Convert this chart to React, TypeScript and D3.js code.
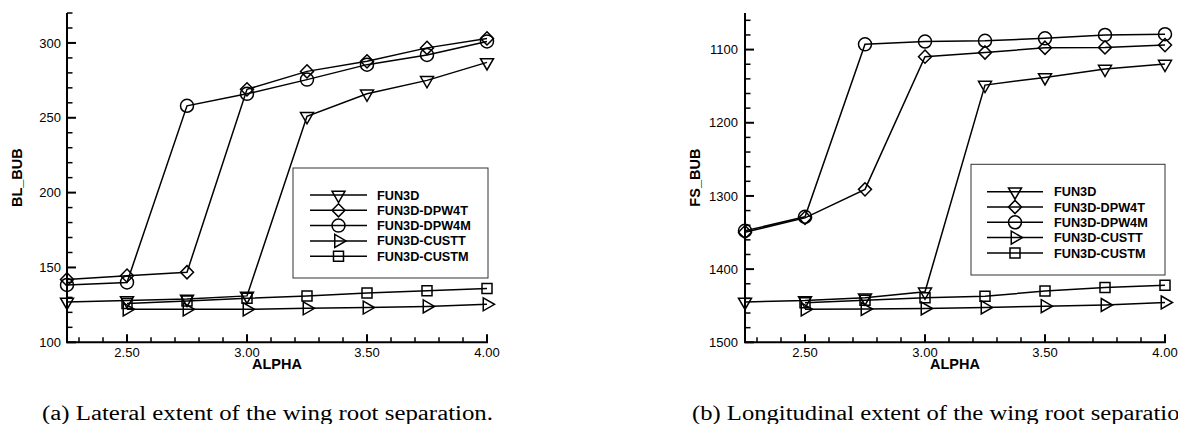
import React from "react";
import * as d3 from "d3";

const alphas = [2.25, 2.5, 2.75, 3.0, 3.25, 3.5, 3.75, 4.0];
const alphasCust = [2.5, 2.75, 3.0, 3.25, 3.5, 3.75, 4.0];

const seriesNames = ["FUN3D", "FUN3D-DPW4T", "FUN3D-DPW4M", "FUN3D-CUSTT", "FUN3D-CUSTM"];
const seriesMarkers = ["triDown", "diamond", "circle", "triRight", "square"];

// (a) BL_BUB
const blFun3d = [127, 128, 129, 131, 251, 266, 275, 287];
const blDpw4t = [142, 144.5, 146.8, 269, 281, 287.7, 296.7, 303];
const blDpw4m = [138.3, 140, 258, 266, 275.5, 285.5, 292, 301];
const blCustt = [122, 122, 122, 122.7, 123.2, 124, 125.4];
const blCustm = [126, 127.6, 129.4, 131, 133, 134.5, 136];

// (b) FS_BUB
const fsFun3d = [1444.8, 1443, 1439, 1431, 1148.5, 1138, 1126.6, 1119.7];
const fsDpw4t = [1349.5, 1330, 1291, 1109.7, 1104, 1097.5, 1097, 1093.8];
const fsDpw4m = [1347.7, 1328.5, 1092.8, 1089, 1088, 1084.6, 1080, 1079];
const fsCustt = [1455, 1454.5, 1453.8, 1452.4, 1450.7, 1449, 1445.6];
const fsCustm = [1446, 1442.5, 1439, 1437, 1430, 1425, 1422];

const xMajorTicks = [2.5, 3.0, 3.5, 4.0];
const xTickLabels = ["2.50", "3.00", "3.50", "4.00"];
const blMajorTicks = [100, 150, 200, 250, 300];
const fsMajorTicks = [1100, 1200, 1300, 1400, 1500];

const captionA = "(a) Lateral extent of the wing root separation.";
const captionB = "(b) Longitudinal extent of the wing root separation.";

const SANS = "'Liberation Sans', Arial, Helvetica, sans-serif";
const SERIF = "'Liberation Serif', 'Times New Roman', serif";

function markerPath(kind: string): string {
  const w = 13;
  const h = w * 0.866;
  switch (kind) {
    case "triDown":
      return `M${-w / 2},${-h / 3}L${w / 2},${-h / 3}L0,${(2 * h) / 3}Z`;
    case "triRight":
      return `M${-h / 3},${-w / 2}L${(2 * h) / 3},0L${-h / 3},${w / 2}Z`;
    case "diamond":
      return "M0,-6.6L6.5,0L0,6.6L-6.5,0Z";
    case "square":
      return "M-5,-5L5,-5L5,5L-5,5Z";
    case "circle":
    default: {
      const p = d3.path();
      p.arc(0, 0, 6.5, 0, Math.PI * 2);
      p.closePath();
      return p.toString();
    }
  }
}

type Series = { xs: number[]; ys: number[]; marker: string };

type PanelProps = {
  x0: number;
  x1: number;
  y0: number;
  y1: number;
  yDomain: [number, number];
  series: Series[];
  yMajors: number[];
  yMinorStep: number;
  yMinorStart: number;
  yMinorEnd: number;
  yTitle: string;
  yTitleX: number;
  labelGap: number;
  legend: { x: number; y: number; w: number; h: number; lineX0: number; lineX1: number; textX: number; rows: number[] };
};

function Panel(p: PanelProps) {
  const xs = d3.scaleLinear().domain([2.25, 4.0]).range([p.x0, p.x1]);
  const ys = d3.scaleLinear().domain(p.yDomain).range([p.y1, p.y0]);
  const line = d3
    .line<[number, number]>()
    .x((d) => xs(d[0]))
    .y((d) => ys(d[1]));

  const xMinor = d3.range(2.3, 3.95, 0.1).filter((v) => !xMajorTicks.some((m) => Math.abs(m - v) < 1e-6));
  const yMinor: number[] = [];
  for (let v = p.yMinorStart; v <= p.yMinorEnd + 1e-6; v += p.yMinorStep) {
    if (!p.yMajors.some((m) => Math.abs(m - v) < 1e-6)) yMinor.push(v);
  }
  const yTop = Math.min(ys.range()[0], ys.range()[1]);
  const yBot = Math.max(ys.range()[0], ys.range()[1]);
  const axisY = yBot;

  return (
    <g>
      {/* data lines */}
      {p.series.map((s, i) => (
        <path
          key={"l" + i}
          d={line(s.xs.map((x, j) => [x, s.ys[j]] as [number, number])) || ""}
          fill="none"
          stroke="#000"
          strokeWidth={1.5}
        />
      ))}
      {p.series.map((s, i) => (
        <g key={"m" + i}>
          {s.xs.map((x, j) => (
            <path
              key={j}
              d={markerPath(s.marker)}
              transform={`translate(${xs(x)},${ys(s.ys[j])})`}
              fill="none"
              stroke="#000"
              strokeWidth={1.5}
            />
          ))}
        </g>
      ))}
      {/* axes */}
      <line x1={p.x0} x2={p.x0} y1={yTop} y2={yBot} stroke="#000" strokeWidth={2} />
      <line x1={p.x0 - 1} x2={p.x1 + 1} y1={axisY} y2={axisY} stroke="#000" strokeWidth={2} />
      {xMajorTicks.map((t, i) => (
        <g key={"xm" + i}>
          <line x1={xs(t)} x2={xs(t)} y1={axisY} y2={axisY - 8} stroke="#000" strokeWidth={2} />
          <text x={xs(t)} y={axisY + 15} textAnchor="middle" fontFamily={SANS} fontSize={13}>
            {xTickLabels[i]}
          </text>
        </g>
      ))}
      {xMinor.map((t, i) => (
        <line key={"xn" + i} x1={xs(t)} x2={xs(t)} y1={axisY} y2={axisY - 5} stroke="#000" strokeWidth={1.5} />
      ))}
      {p.yMajors.map((t, i) => (
        <g key={"ym" + i}>
          <line x1={p.x0} x2={p.x0 + 9} y1={ys(t)} y2={ys(t)} stroke="#000" strokeWidth={2} />
          <text x={p.x0 - p.labelGap} y={ys(t) + 4.6} textAnchor="end" fontFamily={SANS} fontSize={13}>
            {String(t)}
          </text>
        </g>
      ))}
      {yMinor.map((t, i) => (
        <line key={"yn" + i} x1={p.x0} x2={p.x0 + 5.5} y1={ys(t)} y2={ys(t)} stroke="#000" strokeWidth={1.5} />
      ))}
      <text
        x={(p.x0 + p.x1) / 2}
        y={axisY + 27}
        textAnchor="middle"
        fontFamily={SANS}
        fontWeight="bold"
        fontSize={14.5}
      >
        ALPHA
      </text>
      <text
        transform={`translate(${p.yTitleX},${(yTop + yBot) / 2}) rotate(-90)`}
        textAnchor="middle"
        fontFamily={SANS}
        fontWeight="bold"
        fontSize={14.5}
      >
        {p.yTitle}
      </text>
      {/* legend */}
      <rect x={p.legend.x} y={p.legend.y} width={p.legend.w} height={p.legend.h} fill="#fff" stroke="#333" strokeWidth={1} />
      {seriesNames.map((name, i) => {
        const ry = p.legend.rows[i];
        const mx = (p.legend.lineX0 + p.legend.lineX1) / 2;
        return (
          <g key={"lg" + i}>
            <line x1={p.legend.lineX0} x2={p.legend.lineX1} y1={ry} y2={ry} stroke="#000" strokeWidth={1.5} />
            <path d={markerPath(seriesMarkers[i])} transform={`translate(${mx},${ry})`} fill="none" stroke="#000" strokeWidth={1.5} />
            <text x={p.legend.textX} y={ry + 4.5} fontFamily={SANS} fontWeight="bold" fontSize={12.7}>
              {name}
            </text>
          </g>
        );
      })}
    </g>
  );
}

export default function App() {
  const seriesA: Series[] = [
    { xs: alphas, ys: blFun3d, marker: seriesMarkers[0] },
    { xs: alphas, ys: blDpw4t, marker: seriesMarkers[1] },
    { xs: alphas, ys: blDpw4m, marker: seriesMarkers[2] },
    { xs: alphasCust, ys: blCustt, marker: seriesMarkers[3] },
    { xs: alphasCust, ys: blCustm, marker: seriesMarkers[4] },
  ];
  const seriesB: Series[] = [
    { xs: alphas, ys: fsFun3d, marker: seriesMarkers[0] },
    { xs: alphas, ys: fsDpw4t, marker: seriesMarkers[1] },
    { xs: alphas, ys: fsDpw4m, marker: seriesMarkers[2] },
    { xs: alphasCust, ys: fsCustt, marker: seriesMarkers[3] },
    { xs: alphasCust, ys: fsCustm, marker: seriesMarkers[4] },
  ];
  return (
    <svg
      width={1178}
      height={424}
      style={{ position: "absolute", left: 0, top: 0, display: "block", background: "#fff" }}
    >
      <rect width={1178} height={424} fill="#fff" />
      <Panel
        x0={67}
        x1={487}
        y0={13}
        y1={342.3}
        yDomain={[100, 320]}
        series={seriesA}
        yMajors={blMajorTicks}
        yMinorStep={10}
        yMinorStart={110}
        yMinorEnd={320}
        yTitle="BL_BUB"
        yTitleX={21.5}
        labelGap={6}
        legend={{ x: 293, y: 168, w: 195, h: 110, lineX0: 310, lineX1: 367, textX: 377, rows: [195, 210.3, 225.6, 240.9, 256.2] }}
      />
      <Panel
        x0={745}
        x1={1165}
        y0={13}
        y1={342.3}
        yDomain={[1500, 1050]}
        series={seriesB}
        yMajors={fsMajorTicks}
        yMinorStep={20}
        yMinorStart={1060}
        yMinorEnd={1500}
        yTitle="FS_BUB"
        yTitleX={700}
        labelGap={7}
        legend={{ x: 971, y: 164.3, w: 194, h: 110.7, lineX0: 987, lineX1: 1043, textX: 1054, rows: [191.7, 207, 222.3, 237.6, 253] }}
      />
      <text x={42} y={420} fontFamily={SERIF} fontSize={20} textLength={451} lengthAdjust="spacingAndGlyphs">
        {captionA}
      </text>
      <text x={692} y={420} fontFamily={SERIF} fontSize={20} textLength={506} lengthAdjust="spacingAndGlyphs">
        {captionB}
      </text>
    </svg>
  );
}
